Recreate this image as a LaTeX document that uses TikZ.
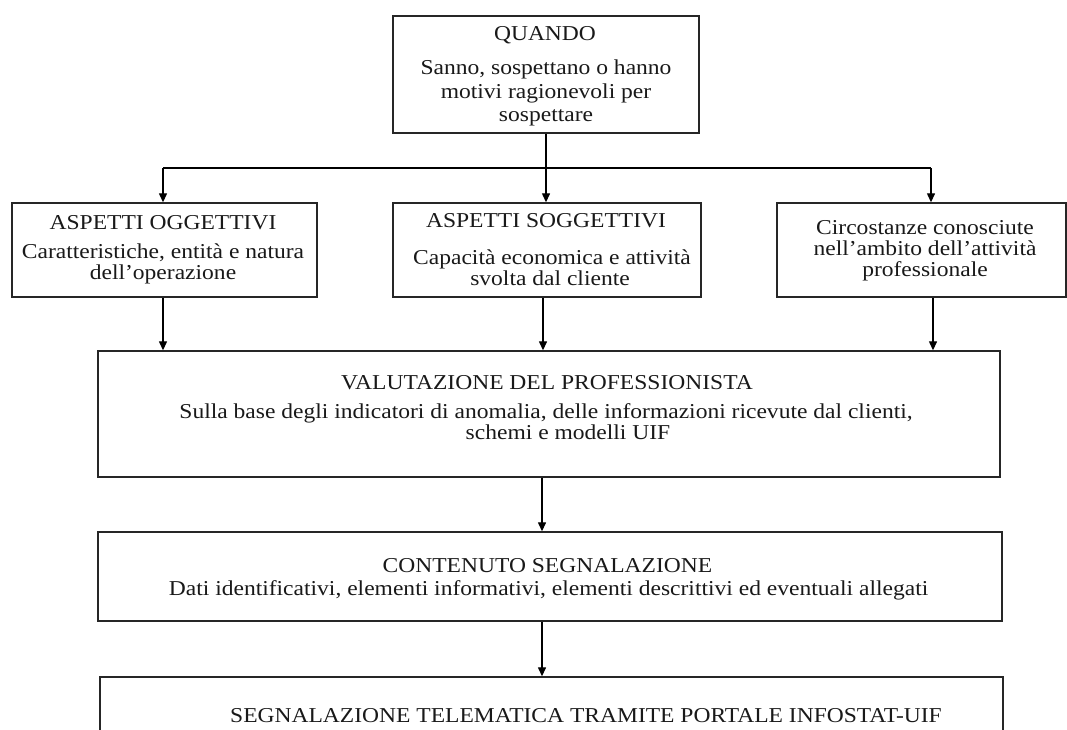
\documentclass[tikz,border=0pt]{standalone}
\usepackage{fontspec}
\setmainfont{Liberation Serif}[FakeStretch=1.11]
\usetikzlibrary{arrows.meta}
\newcommand{\dfont}{\fontsize{21.2pt}{22pt}\selectfont}
\begin{document}
\begin{tikzpicture}[x=1pt,y=-1pt,
  box/.style={draw=black!85, line width=1.4pt, rectangle, inner sep=0pt},
  txt/.style={anchor=base, inner sep=0pt, font=\dfont, text=black!90},
  arr/.style={draw=black, line width=1.3pt, -{Triangle[length=9pt,width=8pt]}},
  ln/.style={draw=black, line width=1.3pt}]
\clip (0,0) rectangle (1067,729);
\fill[white] (0,0) rectangle (1067,729);
% boxes
\node[box, minimum width=306pt, minimum height=117pt] (top) at (546,74.5) {};
\node[box, minimum width=305pt, minimum height=94pt] (b2) at (164.5,250) {};
\node[box, minimum width=308pt, minimum height=94pt] (b3) at (547,250) {};
\node[box, minimum width=289pt, minimum height=94pt] (b4) at (921.5,250) {};
\node[box, minimum width=902pt, minimum height=126pt] (b5) at (549,414) {};
\node[box, minimum width=904pt, minimum height=89pt] (b6) at (550,576.5) {};
\node[box, minimum width=903pt, minimum height=100pt] (b7) at (551.5,727) {};
% texts
\node[txt] (t1) at (545,40) {QUANDO};
\node[txt] (t2) at (546,74) {Sanno, sospettano o hanno};
\node[txt] (t3) at (546,98) {motivi ragionevoli per};
\node[txt] (t4) at (546,121) {sospettare};
\node[txt] (t5) at (163,229) {ASPETTI OGGETTIVI};
\node[txt] (t6) at (163,258) {Caratteristiche, entità e natura};
\node[txt] (t7) at (163,279) {dell’operazione};
\node[txt] (t8) at (546,227) {ASPETTI SOGGETTIVI};
\node[txt] (t9) at (552,264) {Capacità economica e attività};
\node[txt] (t10) at (550,285) {svolta dal cliente};
\node[txt] (t11) at (925,234) {Circostanze conosciute};
\node[txt] (t12) at (925,255) {nell’ambito dell’attività};
\node[txt] (t13) at (925,276) {professionale};
\node[txt] (t14) at (547,389) {VALUTAZIONE DEL PROFESSIONISTA};
\node[txt] (t15) at (546,418) {Sulla base degli indicatori di anomalia, delle informazioni ricevute dal clienti,};
\node[txt] (t16) at (568,439) {schemi e modelli UIF};
\node[txt] (t17) at (547.5,572) {CONTENUTO SEGNALAZIONE};
\node[txt] (t18) at (548.5,595) {Dati identificativi, elementi informativi, elementi descrittivi ed eventuali allegati};
\node[txt] (t19) at (586,722) {SEGNALAZIONE TELEMATICA TRAMITE PORTALE INFOSTAT-UIF};
% connectors
\coordinate (hl) at (163,168);
\coordinate (hr) at (931,168);
\draw[arr] (top.south) -- (top.south |- b3.north);
\draw[ln] (hl) -- (hr);
\draw[arr] (hl) -- (hl |- b2.north);
\draw[arr] (hr) -- (hr |- b4.north);
\draw[arr] ([xshift=-1.5pt]b2.south) -- ([xshift=-1.5pt]b2.south |- b5.north);
\draw[arr] ([xshift=-4pt]b3.south) -- ([xshift=-4pt]b3.south |- b5.north);
\draw[arr] ([xshift=11.5pt]b4.south) -- ([xshift=11.5pt]b4.south |- b5.north);
\draw[arr] ([xshift=-7pt]b5.south) -- ([xshift=-7pt]b5.south |- b6.north);
\draw[arr] ([xshift=-8pt]b6.south) -- ([xshift=-8pt]b6.south |- b7.north);
\end{tikzpicture}
\end{document}
